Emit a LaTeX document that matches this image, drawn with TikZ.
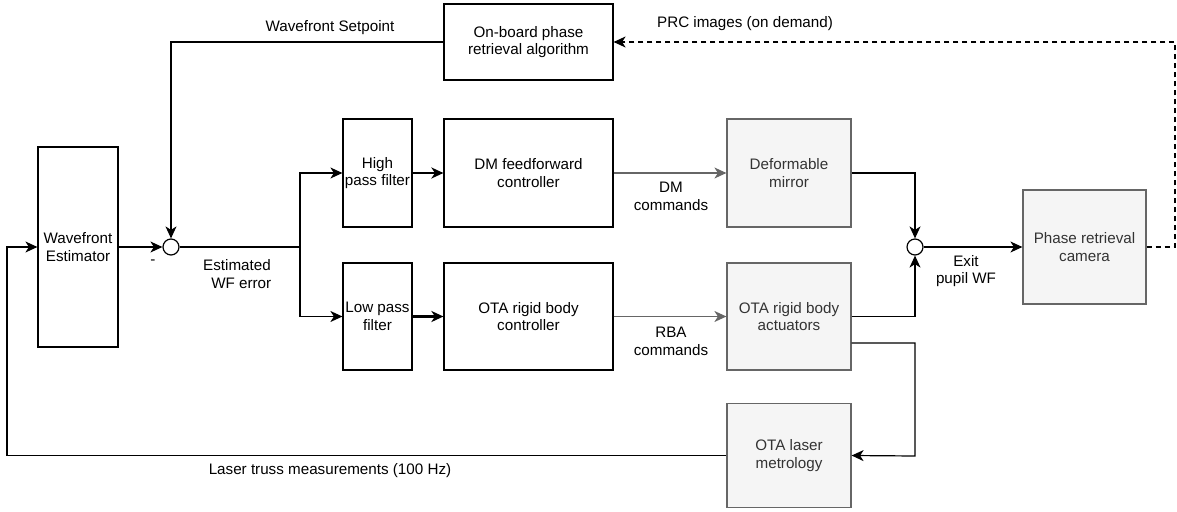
\documentclass[tikz,border=0pt]{standalone}
\usepackage{fontspec}
\setmainfont{Liberation Sans}
\usetikzlibrary{arrows.meta,calc}
\definecolor{gfill}{HTML}{F5F5F5}
\definecolor{gline}{HTML}{666666}
\definecolor{gtext}{HTML}{333333}
\begin{document}
\begin{tikzpicture}[x=1pt,y=-1pt,
  every node/.style={font=\fontsize{15.2}{17.8}\selectfont, align=center},
  blk/.style={draw, line width=1.2pt, fill=white, inner sep=0pt},
  gblk/.style={draw=gline, line width=1.2pt, fill=gfill, text=gtext, inner sep=0pt},
  sumj/.style={draw, circle, line width=1.2pt, minimum size=16pt, inner sep=0pt},
  lbl/.style={inner sep=1pt},
  arr/.style={line width=1.2pt, -{Stealth[length=12pt,width=11pt,inset=3.5pt]}},
  garr/.style={arr, draw=gline},
  tarr/.style={line width=2.4pt, -{Stealth[length=12pt,width=11pt,inset=3.5pt]}},
  ln/.style={line width=1.2pt}]
\useasboundingbox (0,0) rectangle (1177,511);
% boxes
\node[blk, minimum width=80pt, minimum height=200pt] (est) at (78,247) {Wavefront\\Estimator};
\node[blk, minimum width=169pt, minimum height=76pt] (prc) at (528.5,42) {On-board phase\\retrieval algorithm};
\node[blk, minimum width=69pt, minimum height=108pt] (hpf) at (377.5,173) {High\\pass filter};
\node[blk, minimum width=69pt, minimum height=107pt] (lpf) at (377.5,316.5) {Low pass\\filter};
\node[blk, minimum width=169pt, minimum height=108pt] (dmc) at (528.5,173) {DM feedforward\\controller};
\node[blk, minimum width=169pt, minimum height=107pt] (otac) at (528.5,316.5) {OTA rigid body\\controller};
\node[gblk, minimum width=124pt, minimum height=108pt] (dm) at (789,173) {Deformable\\mirror};
\node[gblk, minimum width=124pt, minimum height=107pt] (act) at (789,316.5) {OTA rigid body\\actuators};
\node[gblk, minimum width=124pt, minimum height=104pt] (met) at (789,455.5) {OTA laser\\metrology};
\node[gblk, minimum width=123pt, minimum height=114pt] (cam) at (1084.5,247) {Phase retrieval\\camera};
\node[sumj] (s1) at (171,247) {};
\node[sumj] (s2) at (915,247) {};
\coordinate (br) at (300,247);
% connectors
\draw[arr] (est.east |- s1) -- (s1.west);
\draw[arr] (prc.west) -| (s1.north);
\draw[ln] (s1.east) -- (br);
\draw[arr] (br) |- (hpf.west);
\draw[arr] (br) |- (lpf.west);
\draw[tarr] (hpf.east) -- (dmc.west);
\draw[tarr] (lpf.east) -- (otac.west);
\draw[garr] (dmc.east) -- (dm.west);
\draw[garr] (otac.east) -- (act.west);
\draw[arr] (dm.east) -| (s2.north);
\draw[arr] (act.east) -| (s2.south);
\draw[arr] ($(act.east)+(0,26.5)$) -| ($(s2)+(0,209)$) -- (met.east);
\draw[arr] (s2.east) -- (cam.west);
\draw[arr, dash pattern=on 5pt off 4pt] (cam.east) -- (1175,247) |- (prc.east);
\draw[arr] (met.west) -- (7,455.5) |- (est.west |- s1);
% labels
\node[lbl] at (330,28) {Wavefront Setpoint};
\node[lbl] at (745,24) {PRC images (on demand)};
\node[lbl] at (153,262) {-};
\node[lbl] at (237,274) {Estimated\\\ \ WF error};
\node[lbl] at (671,196) {DM\\commands};
\node[lbl] at (671,341) {RBA\\commands};
\node[lbl] at (966,271) {Exit\\pupil WF};
\node[lbl] at (330,471) {Laser truss measurements (100 Hz)};
\end{tikzpicture}
\end{document}
